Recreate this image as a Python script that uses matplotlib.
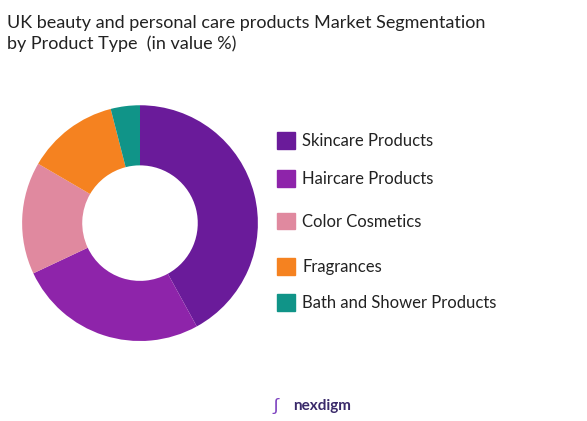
import matplotlib
matplotlib.use("Agg")
import matplotlib.pyplot as plt

categories = ["Skincare Products", "Haircare Products", "Color Cosmetics", "Fragrances", "Bath and Shower Products"]
values = [42, 26, 15.4, 12.6, 4]
colors = ["#6a1b9a", "#8e24aa", "#e0899f", "#f58220", "#109488"]

plt.rcParams['font.family'] = ['Lato', 'DejaVu Sans']
fig = plt.figure(figsize=(5.87, 4.21), dpi=100)
ax = fig.add_axes([0.0375, 0.19, 0.402, 0.56])
ax.pie(values, colors=colors, startangle=90, counterclock=False, radius=1,
       wedgeprops=dict(width=0.51, edgecolor='none'))
ax.set_xlim(-1, 1); ax.set_ylim(-1, 1)
ax.set_aspect('equal')

fig.text(0.012, 0.965, "UK beauty and personal care products Market Segmentation\nby Product Type  (in value %)",
         fontsize=13, va='top', ha='left', color='#222222', linespacing=1.35)

ys = [0.665, 0.575, 0.473, 0.365, 0.28]
for y, c, lab in zip(ys, colors, categories):
    fig.patches.append(plt.Rectangle((0.472, y - 0.018), 0.03, 0.04, color=c, transform=fig.transFigure))
    fig.text(0.515, y, lab, fontsize=12, va='center', ha='left', color='#222222')

fig.text(0.5, 0.035, "nexdigm", fontsize=11, fontweight='bold', color='#3a2a6a', ha='left', va='center')
fig.text(0.47, 0.035, "ʃ", fontsize=13, color='#7b3fbf', ha='center', va='center')
fig.savefig("out.png", dpi=100, facecolor='white')
